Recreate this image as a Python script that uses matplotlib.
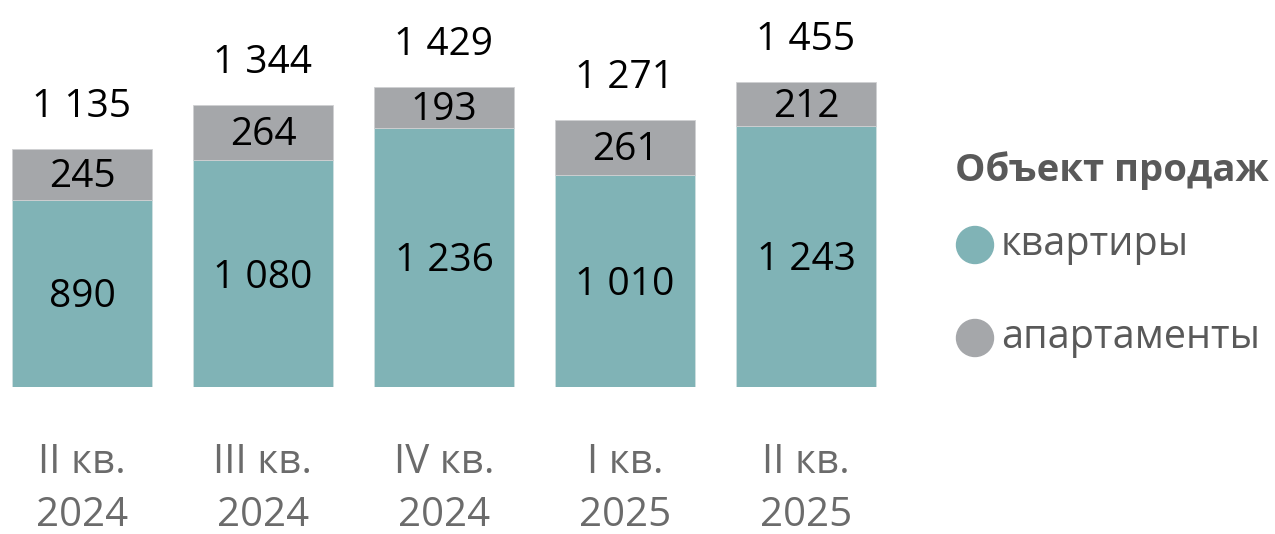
import matplotlib as mpl
mpl.use('agg')
import matplotlib.pyplot as plt

plt.rcParams['font.family'] = ['Open Sans', 'DejaVu Sans']

categories = ['II кв.\n2024', 'III кв.\n2024', 'IV кв.\n2024', 'I кв.\n2025', 'II кв.\n2025']
flats = [890, 1080, 1236, 1010, 1243]
apartments = [245, 264, 193, 261, 212]
totals = [1135, 1344, 1429, 1271, 1455]
series_names = ['квартиры', 'апартаменты']

teal = '#80B3B6'
grey = '#A5A7AA'


def fmt(v):
    return '{:,}'.format(v).replace(',', ' ')


fig = plt.figure(figsize=(12.75, 5.34), dpi=100)
ax = fig.add_axes([0, 147 / 534, 896.5 / 1275, 387 / 534])

x = list(range(len(categories)))
b1 = ax.bar(x, flats, width=0.773, color=teal, edgecolor='#CFE0E1', linewidth=0.6)
b2 = ax.bar(x, apartments, width=0.773, bottom=flats, color=grey,
            edgecolor='#CFD0D2', linewidth=0.6)

# labels sit a touch below the segment centre in the original
for i in x:
    ax.text(i, flats[i] / 2 - 18, fmt(flats[i]), ha='center', va='center',
            fontsize=28, color='black')
    ax.text(i, flats[i] + apartments[i] / 2 - 12, fmt(apartments[i]), ha='center',
            va='center', fontsize=28, color='black')
    ax.text(i, totals[i] + 200, fmt(totals[i]), ha='center', va='center',
            fontsize=28, color='black')

ax.set_xlim(-0.453, 4.5)
ax.set_ylim(0, 1845)
ax.set_xticks(x)
ax.set_xticklabels(categories, fontsize=29, color='#6B6B6B', linespacing=1.4)
ax.tick_params(axis='x', length=0, pad=40)
ax.set_yticks([])
for s in ax.spines.values():
    s.set_visible(False)

# legend
fig.text(955 / 1275, 1 - 171 / 534, 'Объект продаж', fontsize=27.5,
         fontweight='bold', color='#595959', va='center', ha='left')
for k, (name, col) in enumerate(zip(series_names, [teal, grey])):
    yy = 1 - (245 + 93 * k) / 534
    fig.patches.append(mpl.patches.Ellipse((975 / 1275, yy), 37 / 1275, 37 / 534,
                                           transform=fig.transFigure, color=col))
    fig.text(1001 / 1275, yy, name, fontsize=28.5, color='#595959',
             va='center', ha='left')

fig.savefig('out.png', dpi=100)
